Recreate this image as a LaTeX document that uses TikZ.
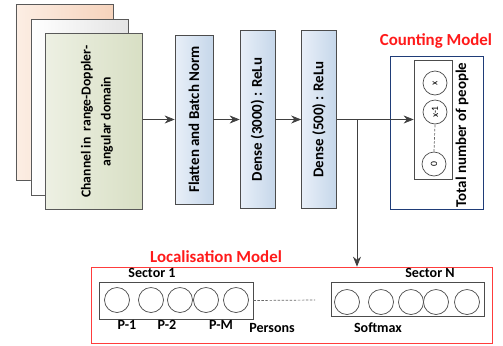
\documentclass[tikz,border=0pt]{standalone}
\usepackage{fontspec}
\setmainfont{Carlito}
\usetikzlibrary{arrows.meta,positioning}
\definecolor{layerL}{HTML}{E8EFF8}
\definecolor{layerR}{HTML}{C6D7EA}
\definecolor{peachL}{HTML}{FCEEE4}
\definecolor{peachR}{HTML}{F6D3BC}
\definecolor{greyR}{HTML}{E4E4E4}
\definecolor{sageL}{HTML}{EDF0E3}
\definecolor{sageR}{HTML}{D8DFC4}
\definecolor{navy}{HTML}{1F3C78}
\definecolor{titlered}{HTML}{FF1A1A}

\begin{document}
\begin{tikzpicture}[x=0.2mm,y=-0.2mm,font=\bfseries\fontsize{8}{9.5}\selectfont,
  >={Stealth[length=2mm,width=1.6mm]},
  page/.style={draw=black!65,minimum width=19.4mm,minimum height=35.2mm},
  layer/.style={draw=black!70,left color=layerL,right color=layerR,
    minimum width=7mm,minimum height=35.6mm},
  layertext/.style={rotate=90,font=\bfseries\fontsize{8.5}{10}\selectfont},
  unit/.style={circle,draw=black!70,fill=white,minimum size=5mm,inner sep=0pt},
  group/.style={draw=black!70,inner sep=0pt},
  title/.style={text=titlered,font=\bfseries\fontsize{9.6}{11}\selectfont},
  conn/.style={->,draw=black!75},
  gapline/.style={dash pattern=on 1.4pt off 0.9pt,black!60}]
  \useasboundingbox (0,0) rectangle (503,345);

  % stacked input channels
  \node[page,left color=peachL,right color=peachR] (ch3) at (64.5,92) {};
  \node[page,left color=white,right color=greyR] (ch2) at (79.5,107) {};
  \node[page,left color=sageL,right color=sageR] (ch1) at (94,121.5) {};
  \node[rotate=90,align=center,font=\bfseries\fontsize{7.8}{11.4}\selectfont]
    at (97,121.5) {Channel in\ \ range-Doppler-\\angular domain};

  % dense layers
  \node[layer,minimum width=7.6mm,minimum height=33.8mm] (flat) at (194,119.5) {};
  \node[layertext] at (flat) {Flatten and Batch Norm};
  \node[layer] (d3000) at (257.5,119.5) {};
  \node[layertext] at (d3000) {Dense (3000) : ReLu};
  \node[layer] (d500) at (319,119.5) {};
  \node[layertext] at (d500) {Dense (500) : ReLu};

  \draw[conn] (ch1.east |- flat.west) -- (flat.west);
  \draw[conn] (flat.east) -- (d3000.west);
  \draw[conn] (d3000.east) -- (d500.west);

  % counting head
  \node[draw=navy,minimum width=18.6mm,minimum height=30.6mm] (count) at (436.5,132.5) {};
  \node[title] at (436,41) {Counting Model};
  \node[group,minimum width=7.6mm,minimum height=23.8mm] (cnt) at (433,119.5) {};
  \node[unit,minimum size=4.8mm] (cx) at (435,83) {};
  \node[unit,minimum size=4.8mm] (cx1) at (435,112) {};
  \node[unit,minimum size=4.8mm] (c0) at (434,164) {};
  \foreach \n/\t in {cx/x,cx1/x-1,c0/0}
    \node[rotate=90,font=\fontsize{5.5}{6}\selectfont] at (\n) {\t};
  \draw[gapline] (c0.north) -- (cx1.south);
  \node[rotate=90,font=\bfseries\fontsize{8.5}{10}\selectfont] at (462,135) {Total number of people};
  \draw[conn] (d500.east) -- (cnt.west);

  % localisation head
  \node[draw=titlered!85,minimum width=80.2mm,minimum height=15.2mm] (loc) at (291.5,305) {};
  \node[title] at (216,257) {Localisation Model};
  \coordinate (split) at (357,119.5);
  \draw[conn] (split) -- (split |- loc.north);

  \node[group,minimum width=30.8mm,minimum height=7.4mm] (sec1) at (176,300.5) {};
  \foreach \cx/\n in {117/a,151/b,180/c,206/d,236/e}
    \node[unit] (s1\n) at (\cx,300) {};
  \node at (152,273) {Sector 1};
  \node at (127,325) {P-1};
  \node at (167,325) {P-2};
  \node at (221,325) {P-M};
  \node at (272,328) {Persons};

  \coordinate (gap) at (315,300);
  \draw[gapline] (sec1.east) -- (gap);

  \node[group,minimum width=30.6mm,minimum height=6.8mm] (secN) at (407.5,299) {};
  \foreach \cx/\n in {347/a,381/b,411/c,436/d,467/e}
    \node[unit] (sN\n) at (\cx,302) {};
  \node at (430,273) {Sector N};
  \node at (378,328) {Softmax};
\end{tikzpicture}
\end{document}
